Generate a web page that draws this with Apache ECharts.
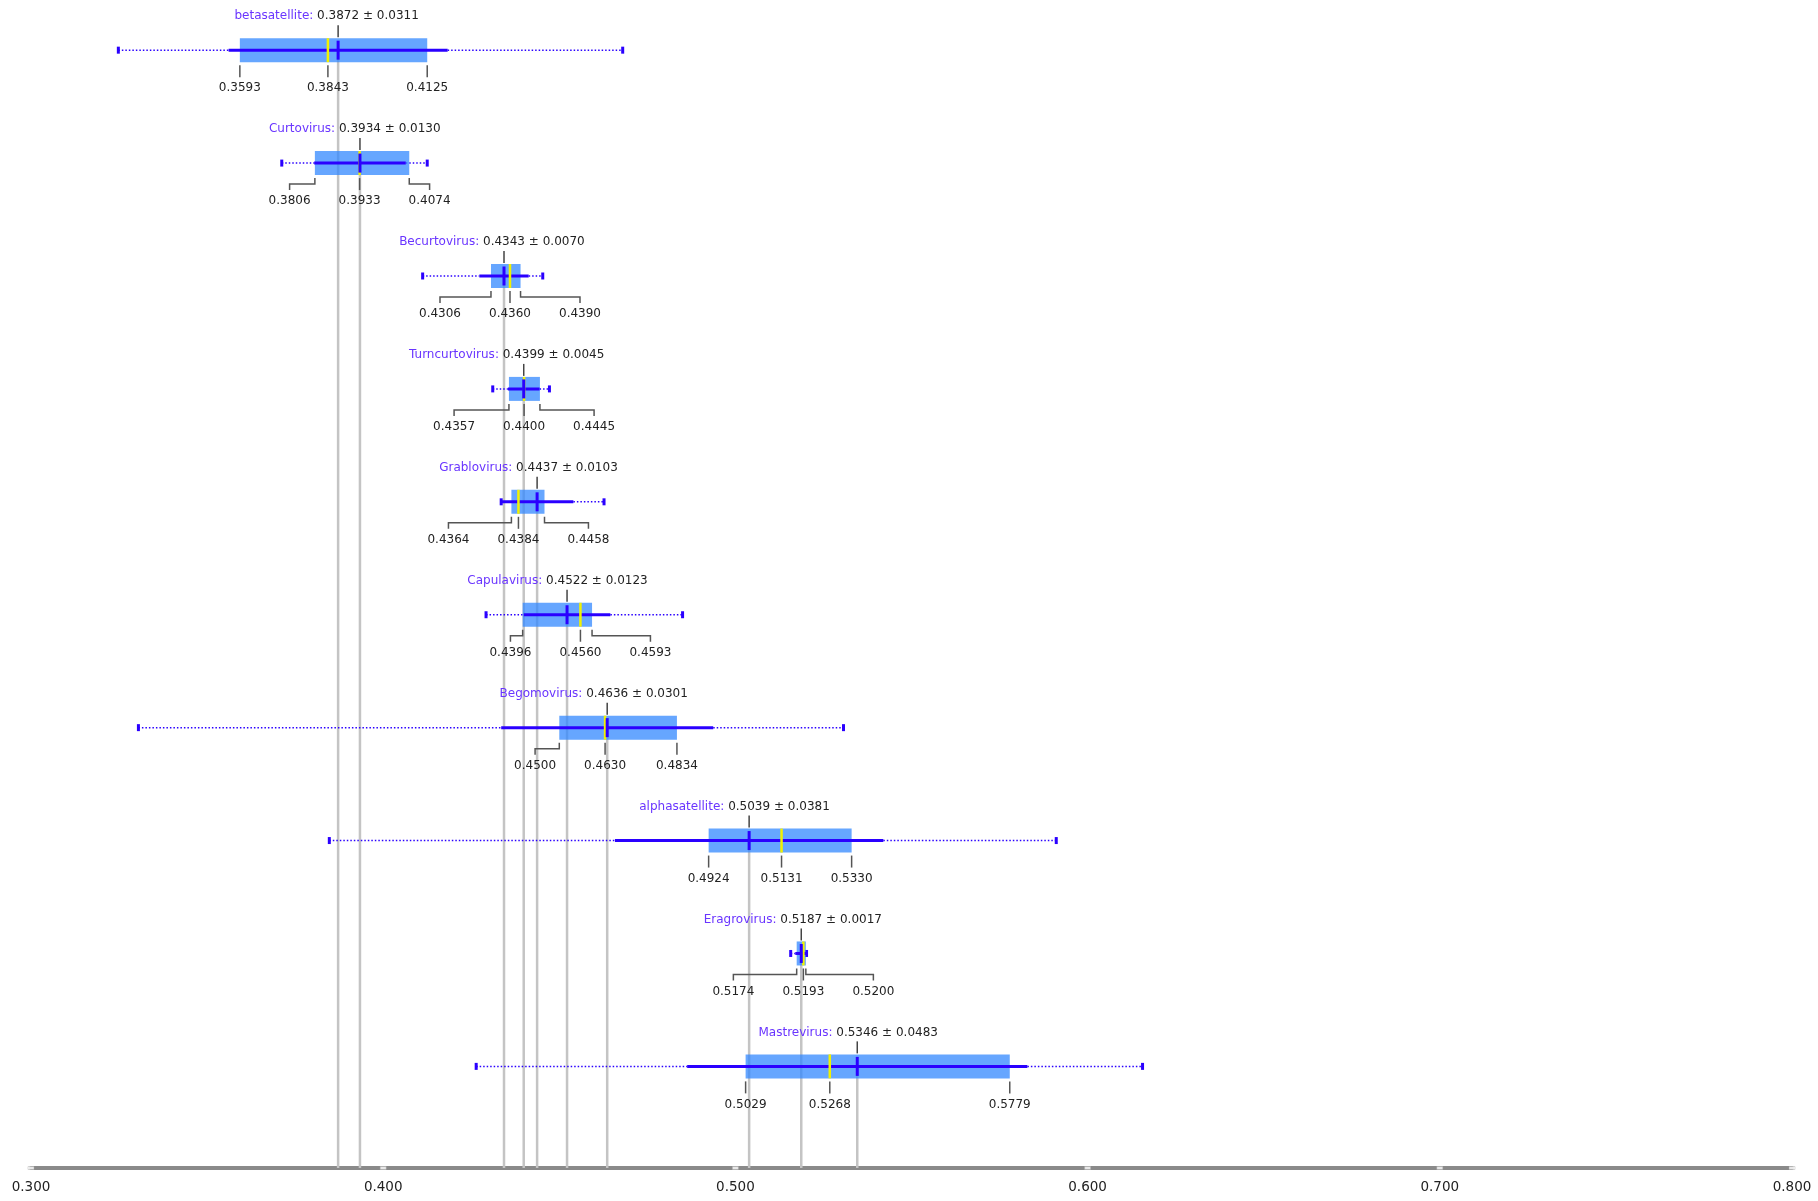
<!DOCTYPE html>
<html>
<head>
<meta charset="utf-8">
<script src="https://cdn.jsdelivr.net/npm/echarts@6/dist/echarts.min.js"></script>
<style>html,body{margin:0;padding:0;background:#fff;}#c{width:1818px;height:1201px;}</style>
</head>
<body>
<div id="c"></div>
<script>
const names = ['betasatellite','Curtovirus','Becurtovirus','Turncurtovirus','Grablovirus','Capulavirus','Begomovirus','alphasatellite','Eragrovirus','Mastrevirus'];
const means = [0.3872,0.3934,0.4343,0.4399,0.4437,0.4522,0.4636,0.5039,0.5187,0.5346];
const stds = [0.0311,0.0130,0.0070,0.0045,0.0103,0.0123,0.0301,0.0381,0.0017,0.0483];
const q1s = [0.3593,0.3806,0.4306,0.4357,0.4364,0.4396,0.4500,0.4924,0.5174,0.5029];
const medians = [0.3843,0.3933,0.4360,0.4400,0.4384,0.4560,0.4630,0.5131,0.5193,0.5268];
const q3s = [0.4125,0.4074,0.4390,0.4445,0.4458,0.4593,0.4834,0.5330,0.5200,0.5779];
const mins = [0.3248,0.3712,0.4112,0.4311,0.4335,0.4292,0.3305,0.3847,0.5157,0.4264];
const maxs = [0.4680,0.4125,0.4453,0.4472,0.4627,0.4850,0.5307,0.5911,0.5202,0.6156];
const xTicks = [0.3,0.4,0.5,0.6,0.7,0.8];

const FONT = '12px "DejaVu Sans"';
const mctx = document.createElement('canvas').getContext('2d');
mctx.font = FONT;
function tw(s){ return mctx.measureText(s).width; }

const BLUE = '#2a00ff';
const NAMEC = '#6a35ff';
const TXT = '#222222';
const CONN = '#555555';
const YBOTTOM = 9.9;

const rows = names.map((n,i)=>[i, means[i], stds[i], q1s[i], medians[i], q3s[i], mins[i], maxs[i]]);

function renderRow(params, api){
  const i = api.value(0);
  const mean = api.value(1), sd = api.value(2), q1 = api.value(3), med = api.value(4), q3 = api.value(5), mn = api.value(6), mx = api.value(7);
  const X = v => api.coord([v, i])[0];
  const y = api.coord([mean, i])[1];
  const lo = Math.max(mn, mean - sd), hi = Math.min(mx, mean + sd);
  const ch = [];
  const hb = 12;
  if (mn < lo) ch.push({type:'line', shape:{x1:X(mn),y1:y,x2:X(lo),y2:y}, style:{stroke:BLUE,lineWidth:1.5,lineDash:[1.5,2]}});
  if (mx > hi) ch.push({type:'line', shape:{x1:X(hi),y1:y,x2:X(mx),y2:y}, style:{stroke:BLUE,lineWidth:1.5,lineDash:[1.5,2]}});
  ch.push({type:'rect', shape:{x:X(mn)-1.5,y:y-3.5,width:3,height:7}, style:{fill:BLUE}});
  ch.push({type:'rect', shape:{x:X(mx)-1.5,y:y-3.5,width:3,height:7}, style:{fill:BLUE}});
  ch.push({type:'rect', shape:{x:X(q1),y:y-hb,width:X(q3)-X(q1),height:2*hb}, style:{fill:'rgba(51,136,255,0.75)'}});
  ch.push({type:'line', shape:{x1:X(lo),y1:y,x2:X(hi),y2:y}, style:{stroke:BLUE,lineWidth:3}});
  ch.push({type:'line', shape:{x1:X(med),y1:y-hb,x2:X(med),y2:y+hb}, style:{stroke:'#f2f200',lineWidth:2.5}});
  ch.push({type:'line', shape:{x1:X(mean),y1:y-hb+2.5,x2:X(mean),y2:y+hb-2.5}, style:{stroke:BLUE,lineWidth:3}});
  const xm = X(mean);
  ch.push({type:'line', shape:{x1:xm,y1:y-25,x2:xm,y2:y-hb-1}, style:{stroke:'#444',lineWidth:1.5}});
  const vs = mean.toFixed(4);
  const vw = tw(vs), sw = tw(' ');
  const ty = y - 34;
  ch.push({type:'text', style:{text:vs, x:xm, y:ty, fill:TXT, font:FONT, align:'center', verticalAlign:'middle'}});
  ch.push({type:'text', style:{text:names[i]+':', x:xm - vw/2 - sw, y:ty, fill:NAMEC, font:FONT, align:'right', verticalAlign:'middle'}});
  ch.push({type:'text', style:{text:' \u00b1 ' + sd.toFixed(4), x:xm + vw/2, y:ty, fill:TXT, font:FONT, align:'left', verticalAlign:'middle'}});
  const xmed = X(med), xq1 = X(q1), xq3 = X(q3);
  const GAP = 70;
  const items = [[q1, xq1, Math.min(xq1, xmed - GAP)], [med, xmed, xmed], [q3, xq3, Math.max(xq3, xmed + GAP)]];
  items.forEach(([v, vx, lx]) => {
    if (Math.abs(vx - lx) < 0.5) {
      ch.push({type:'line', shape:{x1:vx,y1:y+15,x2:vx,y2:y+27}, style:{stroke:CONN,lineWidth:1.5}});
    } else {
      ch.push({type:'polyline', shape:{points:[[vx,y+15],[vx,y+21],[lx,y+21],[lx,y+27]]}, style:{stroke:CONN,lineWidth:1.5,fill:null}});
    }
    ch.push({type:'text', style:{text:v.toFixed(4), x:lx, y:y+38, fill:TXT, font:FONT, align:'center', verticalAlign:'middle'}});
  });
  return {type:'group', children:ch};
}

function renderGuide(params, api){
  const i = api.value(0);
  const mean = api.value(1);
  const p = api.coord([mean, i]);
  const b = api.coord([mean, YBOTTOM]);
  return {type:'line', shape:{x1:p[0],y1:p[1],x2:b[0],y2:b[1]}, style:{stroke:'#c4c4c4',lineWidth:2.5}};
}

const chart = echarts.init(document.getElementById('c'), null, {renderer:'canvas'});
chart.setOption({
  animation:false,
  backgroundColor:'#ffffff',
  grid:{left:31, width:1761, top:5, height:1163, containLabel:false},
  xAxis:{type:'value', min:0.3, max:0.8, interval:0.1, position:'bottom',
    axisLine:{show:true, onZero:false, lineStyle:{color:'#8a8a8a', width:4}},
    axisTick:{show:false}, splitLine:{show:false},
    axisLabel:{formatter:v=>v.toFixed(3), color:TXT, fontSize:13.5, fontFamily:'DejaVu Sans', margin:12, showMinLabel:true, showMaxLabel:true}},
  yAxis:{type:'value', inverse:true, min:-0.4, max:YBOTTOM, show:false},
  series:[
    {type:'custom', z:1, clip:false, renderItem:renderGuide, data:rows, encode:{x:1, y:0}},
    {type:'custom', z:2, clip:false, renderItem:renderRow, data:rows, encode:{x:[1,3,5,6,7], y:0}},
    {type:'scatter', z:5, symbol:'rect', symbolSize:[6,3], itemStyle:{color:'#ffffff', borderColor:'#aaaaaa', borderWidth:0.5}, data:xTicks.map(v=>[v, YBOTTOM]), silent:true}
  ]
});
</script>
</body>
</html>
